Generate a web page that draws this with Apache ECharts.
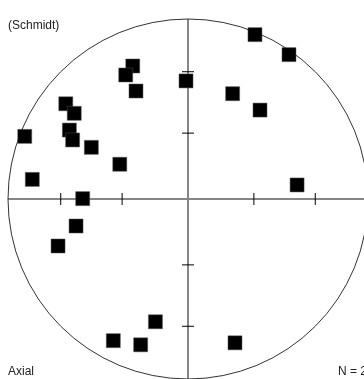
<!DOCTYPE html>
<html><head><meta charset="utf-8">
<script src="https://cdn.jsdelivr.net/npm/echarts@6/dist/echarts.min.js"></script>
<style>html,body{margin:0;padding:0;background:#fff}#c{width:364px;height:379px}</style>
</head><body><div id="c"></div>
<script>
// Axial data plotted in the Schmidt (equal-area) net, unit-circle coordinates
const poleX = [0.372, 0.561, -0.307, -0.346, -0.011, -0.289, 0.248, -0.679, 0.400, -0.632,
               -0.659, -0.907, -0.641, -0.537, -0.379, -0.865, 0.606, -0.585, -0.622, -0.722,
               -0.181, -0.415, -0.263, 0.261];
const poleY = [0.913, 0.802, 0.739, 0.689, 0.656, 0.600, 0.585, 0.529, 0.494, 0.476,
               0.383, 0.348, 0.328, 0.287, 0.193, 0.109, 0.078, 0.002, -0.150, -0.261,
               -0.682, -0.787, -0.810, -0.799];
// equal-area tick radii for 30° and 60° along the axes
const tickValues = [-0.7071, -0.366, 0.366, 0.7071];
const projectionLabel = '(Schmidt)';
const modeLabel = 'Axial';
const countLabel = 'N = 25';

const points = poleX.map((x, i) => [x, poleY[i]]);
const font = 'Liberation Sans, Arial, sans-serif';

function renderFrame(params, api) {
  const c = api.coord([0, 0]);
  const R = api.size([1, 1])[0];
  const ch = [];
  const l = api.coord([-1, 0]), r = api.coord([1, 0]);
  const t = api.coord([0, 1]), b = api.coord([0, -1]);
  ch.push({type: 'line', shape: {x1: l[0], y1: l[1], x2: r[0], y2: r[1]}, style: {stroke: '#858585', lineWidth: 2}});
  ch.push({type: 'line', shape: {x1: t[0], y1: t[1], x2: b[0], y2: b[1]}, style: {stroke: '#858585', lineWidth: 2}});
  tickValues.forEach(v => {
    const px = api.coord([v, 0]);
    ch.push({type: 'line', shape: {x1: px[0], y1: px[1] - 6, x2: px[0], y2: px[1] + 6}, style: {stroke: '#000', lineWidth: 1}});
    const py = api.coord([0, v]);
    ch.push({type: 'line', shape: {x1: py[0] - 6, y1: py[1], x2: py[0] + 6, y2: py[1]}, style: {stroke: '#000', lineWidth: 1}});
  });
  ch.push({type: 'circle', shape: {cx: c[0], cy: c[1], r: R}, style: {fill: 'none', stroke: '#333', lineWidth: 1}});
  return {type: 'group', children: ch};
}

const chart = echarts.init(document.getElementById('c'), null, {renderer: 'canvas'});
chart.setOption({
  animation: false,
  backgroundColor: '#fff',
  grid: {left: 8, top: 19, width: 360, height: 360, containLabel: false, outerBoundsMode: 'none'},
  xAxis: {type: 'value', min: -1, max: 1, show: false},
  yAxis: {type: 'value', min: -1, max: 1, show: false},
  graphic: [
    {type: 'text', left: 8, top: 20, style: {text: projectionLabel, font: '12px ' + font, fill: '#222'}},
    {type: 'text', left: 8, top: 366, style: {text: modeLabel, font: '12px ' + font, fill: '#222'}},
    {type: 'text', left: 338, top: 366, style: {text: countLabel, font: '12px ' + font, fill: '#222'}}
  ],
  series: [
    {type: 'custom', renderItem: renderFrame, data: [[0, 0]], silent: true, clip: false, z: 1},
    {type: 'scatter', data: points, symbol: 'rect', symbolSize: 14, clip: false,
     itemStyle: {color: '#000', borderColor: '#555', borderWidth: 0.5, opacity: 1}, z: 2}
  ]
});
</script>
</body></html>
